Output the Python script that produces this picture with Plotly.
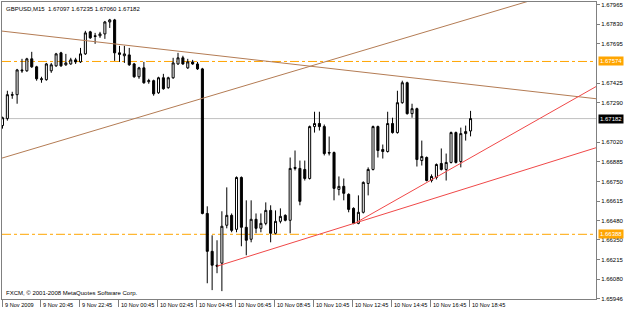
import plotly.graph_objects as go

# ---------------- data (GBPUSD, M15) ----------------
bar_index = list(range(97))

opens = [1.67134, 1.67182, 1.67346, 1.67346, 1.67516, 1.67510, 1.67592, 1.67537, 1.67449, 1.67449,
         1.67510, 1.67544, 1.67633, 1.67551, 1.67557, 1.67585, 1.67571, 1.67626, 1.67777, 1.67750,
         1.67750, 1.67763, 1.67845, 1.67859, 1.67633, 1.67613, 1.67619, 1.67557, 1.67469, 1.67530,
         1.67435, 1.67442, 1.67359, 1.67462, 1.67394, 1.67462, 1.67557, 1.67599, 1.67530, 1.67571,
         1.67557, 1.67523, 1.66531, 1.66271, 1.66176, 1.66190, 1.66450, 1.66518, 1.66422, 1.66778,
         1.66436, 1.66354, 1.66491, 1.66429, 1.66463, 1.66552, 1.66395, 1.66477, 1.66518, 1.66484,
         1.66847, 1.66840, 1.66833, 1.66771, 1.67127, 1.67148, 1.67127, 1.66949, 1.66949, 1.66696,
         1.66717, 1.66662, 1.66566, 1.66463, 1.66539, 1.66737, 1.66833, 1.67127, 1.66970, 1.66956,
         1.67148, 1.67086, 1.67291, 1.67428, 1.67216, 1.67250, 1.66894, 1.66915, 1.66757, 1.66778,
         1.66874, 1.66833, 1.66881, 1.67086, 1.66887, 1.67079, 1.67097]

highs = [1.67195, 1.67373, 1.67366, 1.67523, 1.67592, 1.67599, 1.67640, 1.67544, 1.67469, 1.67564,
         1.67564, 1.67633, 1.67640, 1.67626, 1.67599, 1.67599, 1.67667, 1.67784, 1.67784, 1.67770,
         1.67777, 1.67852, 1.67866, 1.67866, 1.67681, 1.67681, 1.67667, 1.67564, 1.67537, 1.67571,
         1.67455, 1.67449, 1.67469, 1.67489, 1.67469, 1.67599, 1.67633, 1.67613, 1.67592, 1.67585,
         1.67571, 1.67530, 1.66580, 1.66381, 1.66347, 1.66546, 1.66710, 1.66531, 1.66785, 1.66785,
         1.66621, 1.66621, 1.66531, 1.66531, 1.66607, 1.66587, 1.66552, 1.66566, 1.66525, 1.66915,
         1.66963, 1.66894, 1.66894, 1.67134, 1.67229, 1.67229, 1.67141, 1.67059, 1.66956, 1.66785,
         1.66771, 1.66669, 1.66573, 1.66655, 1.66751, 1.66847, 1.67134, 1.67134, 1.67004, 1.67229,
         1.67188, 1.67373, 1.67442, 1.67435, 1.67284, 1.67257, 1.67031, 1.66922, 1.66799, 1.66874,
         1.66977, 1.66942, 1.67093, 1.67093, 1.67120, 1.67134, 1.67235]

lows = [1.67113, 1.67168, 1.67318, 1.67284, 1.67496, 1.67503, 1.67530, 1.67442, 1.67428, 1.67442,
        1.67496, 1.67537, 1.67537, 1.67544, 1.67551, 1.67557, 1.67564, 1.67619, 1.67729, 1.67695,
        1.67736, 1.67729, 1.67804, 1.67578, 1.67571, 1.67564, 1.67544, 1.67462, 1.67455, 1.67421,
        1.67421, 1.67339, 1.67352, 1.67380, 1.67387, 1.67455, 1.67551, 1.67551, 1.67523, 1.67551,
        1.67516, 1.66525, 1.66052, 1.66005, 1.66121, 1.65998, 1.66429, 1.66402, 1.66402, 1.66306,
        1.66244, 1.66333, 1.66395, 1.66402, 1.66450, 1.66333, 1.66388, 1.66463, 1.66477, 1.66395,
        1.66826, 1.66587, 1.66757, 1.66764, 1.67086, 1.67100, 1.66929, 1.66929, 1.66621, 1.66655,
        1.66621, 1.66539, 1.66457, 1.66457, 1.66531, 1.66655, 1.66826, 1.66915, 1.66908, 1.66949,
        1.67079, 1.67079, 1.67284, 1.67209, 1.67188, 1.66853, 1.66860, 1.66751, 1.66744, 1.66764,
        1.66826, 1.66757, 1.66874, 1.66874, 1.66847, 1.67031, 1.67060]

closes = [1.67188, 1.67346, 1.67343, 1.67516, 1.67510, 1.67592, 1.67537, 1.67455, 1.67455, 1.67557,
          1.67551, 1.67626, 1.67544, 1.67564, 1.67585, 1.67571, 1.67626, 1.67770, 1.67736, 1.67746,
          1.67763, 1.67845, 1.67859, 1.67633, 1.67623, 1.67626, 1.67551, 1.67469, 1.67530, 1.67428,
          1.67442, 1.67352, 1.67462, 1.67387, 1.67462, 1.67564, 1.67599, 1.67557, 1.67571, 1.67557,
          1.67523, 1.66531, 1.66271, 1.66176, 1.66169, 1.66443, 1.66518, 1.66415, 1.66778, 1.66436,
          1.66347, 1.66491, 1.66429, 1.66463, 1.66552, 1.66395, 1.66477, 1.66511, 1.66484, 1.66840,
          1.66840, 1.66614, 1.66771, 1.67127, 1.67148, 1.67127, 1.66942, 1.66946, 1.66703, 1.66717,
          1.66669, 1.66559, 1.66463, 1.66539, 1.66744, 1.66833, 1.67127, 1.66963, 1.66956, 1.67148,
          1.67086, 1.67291, 1.67428, 1.67216, 1.67250, 1.66901, 1.66922, 1.66757, 1.66785, 1.66867,
          1.66833, 1.66881, 1.67086, 1.66881, 1.67079, 1.67093, 1.67182]

time_tick_bars = [0, 8, 16, 24, 32, 40, 48, 56, 64, 72, 80, 88, 96]
time_tick_text = ["9 Nov 2009", "9 Nov 20:45", "9 Nov 22:45", "10 Nov 00:45", "10 Nov 02:45",
                  "10 Nov 04:45", "10 Nov 06:45", "10 Nov 08:45", "10 Nov 10:45", "10 Nov 12:45",
                  "10 Nov 14:45", "10 Nov 16:45", "10 Nov 18:45"]

# 1.67560 and 1.67155 are hidden behind the highlighted price boxes in the original
price_ticks = [1.67965, 1.67830, 1.67695, 1.67425, 1.67290, 1.67020,
               1.66885, 1.66750, 1.66615, 1.66480, 1.66350, 1.66215, 1.66080, 1.65946]
price_tick_text = ["1.67965", "1.67830", "1.67695", "1.67425", "1.67290", "1.67020",
                   "1.66885", "1.66750", "1.66615", "1.66480", "1.66350", "1.66215", "1.66080", "1.65946"]

header_text = "GBPUSD,M15  1.67097 1.67235 1.67060 1.67182"
copyright_text = "FXCM, \u00a9 2001-2008 MetaQuotes Software Corp."

# trend lines: anchor points (bar index, price)
brown_falling = [(0, 1.67782), (63, 1.67542)]
brown_rising = [(0, 1.66912), (100, 1.67909)]
red_lower = [(44, 1.66169), (72.4, 1.66466)]
red_upper = [(72.4, 1.66466), (121.7, 1.67401)]
orange_levels = [1.67574, 1.66388]
current_price = 1.67182

# ---------------- style ----------------
FONT = "Liberation Sans"
AXIS_COL = "#808080"
BROWN = "#B47C54"
RED = "#F04848"
ORANGE = "#FFA500"
X_RANGE = [-0.10, 121.73]
Y_RANGE = [1.65944, 1.67982]


def ray(a, b, x_from, x_to):
    slope = (b[1] - a[1]) / (b[0] - a[0])
    return [x_from, x_to], [a[1] + slope * (x_from - a[0]), a[1] + slope * (x_to - a[0])]


fig = go.Figure()

for a, b, col, full in [(brown_falling[0], brown_falling[1], BROWN, True),
                        (brown_rising[0], brown_rising[1], BROWN, True),
                        (red_lower[0], red_lower[1], RED, False),
                        (red_upper[0], red_upper[1], RED, False)]:
    xs, ys = ray(a, b, -5 if full else a[0], 130)
    fig.add_trace(go.Scatter(x=xs, y=ys, mode="lines", line=dict(color=col, width=1),
                             hoverinfo="skip", showlegend=False))

shapes = []
for lvl in orange_levels:
    shapes.append(dict(type="line", xref="paper", yref="y", x0=0, x1=1, y0=lvl, y1=lvl,
                       line=dict(color=ORANGE, width=1, dash="dashdot"), layer="below"))
shapes.append(dict(type="line", xref="paper", yref="y", x0=0, x1=1, y0=current_price, y1=current_price,
                   line=dict(color="#C0C0C0", width=1), layer="below"))

fig.add_trace(go.Candlestick(
    x=bar_index, open=opens, high=highs, low=lows, close=closes,
    increasing=dict(fillcolor="white", line=dict(color="black", width=1)),
    decreasing=dict(fillcolor="black", line=dict(color="black", width=1)),
    whiskerwidth=0, showlegend=False, hoverinfo="skip"))

annotations = [
    dict(text=header_text, xref="paper", yref="paper", x=0, y=1, xanchor="left", yanchor="top",
         xshift=2, yshift=-2, showarrow=False, font=dict(family=FONT, size=6, color="black")),
    dict(text=copyright_text, xref="paper", yref="paper", x=0, y=0, xanchor="left", yanchor="bottom",
         xshift=2, yshift=1, showarrow=False, font=dict(family=FONT, size=6, color="black")),
]
for b, t in zip(time_tick_bars, time_tick_text):
    annotations.append(dict(text=t, xref="x", yref="paper", x=max(b - 0.3, X_RANGE[0]), y=0,
                            xanchor="left", yanchor="top", xshift=1, yshift=-1, showarrow=False,
                            font=dict(family=FONT, size=5.6, color="black")))
for lvl, bg in [(orange_levels[0], ORANGE), (orange_levels[1], ORANGE), (current_price, "black")]:
    annotations.append(dict(text=f"{lvl:.5f}", xref="paper", yref="y", x=1, y=lvl, xanchor="left",
                            yanchor="middle", xshift=2, showarrow=False, bgcolor=bg, borderpad=1,
                            font=dict(family=FONT, size=6, color="white")))

fig.update_layout(
    width=625, height=311,
    margin=dict(l=1, r=24, t=1, b=12),
    paper_bgcolor="white", plot_bgcolor="white",
    boxgap=0.4,
    showlegend=False,
    annotations=annotations,
    shapes=shapes,
    xaxis=dict(range=X_RANGE, rangeslider=dict(visible=False), showgrid=False, zeroline=False,
               tickvals=[max(b - 0.3, X_RANGE[0]) for b in time_tick_bars], showticklabels=False,
               ticks="outside", ticklen=7, tickcolor=AXIS_COL, tickwidth=1,
               showline=True, linecolor=AXIS_COL, linewidth=1, mirror=True, fixedrange=True),
    yaxis=dict(range=Y_RANGE, side="right", showgrid=False, zeroline=False,
               tickvals=price_ticks, ticktext=price_tick_text,
               ticks="outside", ticklen=3, tickcolor=AXIS_COL, tickwidth=1,
               tickfont=dict(family=FONT, size=6, color="black"),
               showline=True, linecolor=AXIS_COL, linewidth=1, mirror=True, fixedrange=True),
)

fig.write_html("out.html")
